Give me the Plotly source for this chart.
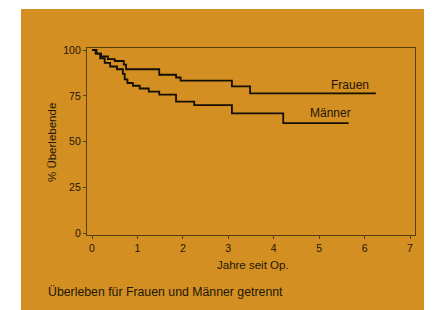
import plotly.graph_objects as go

# Kaplan-Meier step data (years, % surviving)
frauen_t = [0, 0.1, 0.2, 0.35, 0.5, 0.7, 0.75, 1.48, 1.85, 1.95, 3.08, 3.48, 6.25]
frauen_s = [100, 98, 96.5, 95, 94, 92, 89.5, 86.5, 85, 83.3, 80.2, 76.4, 76.4]

maenner_t = [0, 0.08, 0.18, 0.28, 0.4, 0.55, 0.68, 0.72, 0.78, 0.9, 1.05, 1.25, 1.48, 1.85, 2.25, 3.08, 4.21, 5.65]
maenner_s = [100, 98, 95.5, 93, 91, 89.5, 87, 84, 82, 80.5, 79, 77.3, 75.7, 71.8, 69.9, 65.4, 60.1, 60.1]

x_ticks = [0, 1, 2, 3, 4, 5, 6, 7]
y_ticks = [0, 25, 50, 75, 100]

x_title = "Jahre seit Op."
y_title = "% Überlebende"
caption = "Überleben für Frauen und Männer getrennt"
labels = [("Frauen", 5.67, 80.9), ("Männer", 5.24, 65.8)]

ORANGE = "#D38F22"
LINE = "#140e04"
AXIS = "#5a3f10"
TXT = "#1e1606"
FONT = "Liberation Sans, Arial, sans-serif"

OFF = 8  # page body margin
W, H = 432 - OFF, 310 - OFF
L, T = 87 - OFF, 48 - OFF
R = W - (415 - OFF)
B = H - (235 - OFF)
pw, ph = W - L - R, H - T - B

def px_x(p):
    return (p - OFF - L) / pw

def px_y(p):
    return (H - B - (p - OFF)) / ph

fig = go.Figure()
fig.add_trace(go.Scatter(x=frauen_t, y=frauen_s, mode="lines", line_shape="hv",
                         line=dict(color=LINE, width=1.8), name="Frauen"))
fig.add_trace(go.Scatter(x=maenner_t, y=maenner_s, mode="lines", line_shape="hv",
                         line=dict(color=LINE, width=1.8), name="Männer"))

for txt, xx, yy in labels:
    fig.add_annotation(x=xx, y=yy, text=txt, showarrow=False,
                       xanchor="center", yanchor="middle",
                       font=dict(family=FONT, size=12, color=TXT))

fig.add_shape(type="rect", xref="paper", yref="paper",
              x0=px_x(21), x1=px_x(440), y0=px_y(320), y1=px_y(9),
              fillcolor=ORANGE, line=dict(width=0), layer="below")

fig.add_annotation(xref="paper", yref="paper", x=px_x(253), y=px_y(265),
                   text=x_title, showarrow=False,
                   xanchor="center", yanchor="middle",
                   font=dict(family=FONT, size=11.5, color=TXT))
fig.add_annotation(xref="paper", yref="paper", x=px_x(52), y=px_y(143),
                   text=y_title, showarrow=False, textangle=-90,
                   xanchor="center", yanchor="middle",
                   font=dict(family=FONT, size=11.5, color=TXT))
fig.add_annotation(xref="paper", yref="paper", x=px_x(46), y=px_y(292),
                   text=caption, showarrow=False,
                   xanchor="left", yanchor="middle",
                   font=dict(family=FONT, size=12.3, color=TXT))

fig.update_layout(
    width=W, height=H,
    margin=dict(l=L, r=R, t=T, b=B),
    paper_bgcolor="white",
    plot_bgcolor=ORANGE,
    showlegend=False,
    font=dict(family=FONT, size=10.5, color=TXT),
)
fig.update_xaxes(range=[-0.11, 7.11], tickvals=x_ticks, ticks="outside", ticklen=3,
                 tickcolor=AXIS, showline=True, linecolor=AXIS, linewidth=1.2,
                 mirror=True, showgrid=False, zeroline=False)
fig.update_yaxes(range=[-0.9, 101.1], tickvals=y_ticks, ticks="outside", ticklen=3,
                 tickcolor=AXIS, showline=True, linecolor=AXIS, linewidth=1.2,
                 mirror=True, showgrid=False, zeroline=False)

fig.write_html("out.html")
